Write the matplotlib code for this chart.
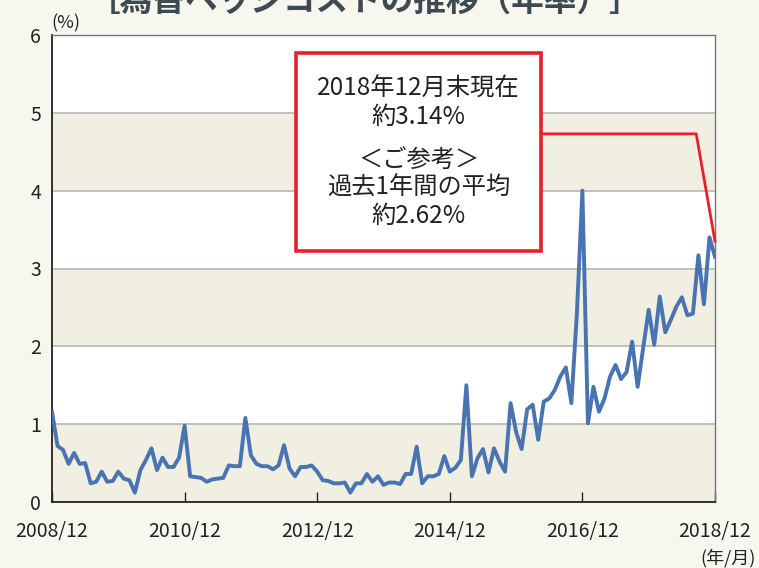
import matplotlib.pyplot as plt
from matplotlib.patches import Rectangle

plt.rcParams['font.family'] = ['Noto Sans CJK JP', 'DejaVu Sans']

# 月次データ 2008/12 - 2018/12 (%)
hedge_cost = [
    1.16, 0.72, 0.67, 0.49, 0.63, 0.49, 0.50, 0.24, 0.26, 0.39,
    0.26, 0.27, 0.39, 0.30, 0.28, 0.12, 0.41, 0.54, 0.69, 0.41,
    0.57, 0.45, 0.45, 0.57, 0.98, 0.33, 0.32, 0.31, 0.26, 0.29,
    0.30, 0.31, 0.47, 0.46, 0.46, 1.08, 0.60, 0.49, 0.46, 0.46,
    0.42, 0.47, 0.73, 0.43, 0.33, 0.45, 0.45, 0.47, 0.39, 0.28,
    0.27, 0.24, 0.24, 0.25, 0.12, 0.24, 0.24, 0.36, 0.26, 0.33,
    0.22, 0.25, 0.25, 0.23, 0.36, 0.36, 0.71, 0.24, 0.33, 0.33,
    0.36, 0.59, 0.39, 0.44, 0.54, 1.50, 0.33, 0.56, 0.68, 0.38,
    0.69, 0.52, 0.39, 1.27, 0.90, 0.68, 1.19, 1.25, 0.80, 1.29,
    1.33, 1.44, 1.61, 1.73, 1.27, 2.42, 4.00, 1.01, 1.48, 1.16,
    1.33, 1.61, 1.76, 1.58, 1.67, 2.06, 1.48, 1.98, 2.47, 2.02,
    2.64, 2.18, 2.34, 2.51, 2.63, 2.40, 2.42, 3.17, 2.54, 3.40,
    3.15,
]
tick_pos = [0, 24, 48, 72, 96, 120]
tick_labels = ['2008/12', '2010/12', '2012/12', '2014/12', '2016/12', '2018/12']
months = list(range(len(hedge_cost)))

fig = plt.figure(figsize=(7.59, 5.68), dpi=100, facecolor='#f8f7ef')
ax = fig.add_axes([52/759, 1-502/568, 663/759, 467/568])
ax.set_facecolor('white')

# 背景の帯と横線
for lo in [0, 2, 4]:
    ax.axhspan(lo, lo + 1, color='#f1eee2', zorder=0, lw=0)
for y in range(1, 6):
    ax.axhline(y, color='#bcbcbc', lw=1.3, zorder=1)

ax.plot(months, hedge_cost, color='#4874b2', lw=2.8, zorder=3,
        solid_joinstyle='round')

ax.set_xlim(0, 120)
ax.set_ylim(0, 6)
ax.set_yticks(range(7))
ax.set_xticks(tick_pos)
ax.set_xticklabels(tick_labels)
ax.tick_params(axis='y', length=0, pad=8, labelsize=14, colors='#222')
ax.tick_params(axis='x', direction='in', length=7, width=1, pad=14,
               labelsize=14, colors='#222')
for s in ['left', 'bottom']:
    ax.spines[s].set_color('#222')
    ax.spines[s].set_linewidth(1.3)
for s in ['top', 'right']:
    ax.spines[s].set_color('#777')
    ax.spines[s].set_linewidth(1)

# 注記ボックス
box = Rectangle((44.2, 3.225), 88.5 - 44.2, 5.77 - 3.225, fill=True,
                facecolor='white', edgecolor='#e5202a', lw=2.6, zorder=4)
ax.add_patch(box)
ax.plot([88.5, 116.6, 120], [4.73, 4.73, 3.35], color='#e5202a', lw=2,
        zorder=4, clip_on=False)
ax.text(66.35, 5.13, '2018年12月末現在\n約3.14%', ha='center', va='center',
        fontsize=17.5, linespacing=1.1, color='#222', zorder=5)
ax.text(66.35, 4.04, '＜ご参考＞\n過去1年間の平均\n約2.62%', ha='center',
        va='center', fontsize=17.5, linespacing=1.1, color='#222', zorder=5)

fig.text(51/759, 1-28/568, '(%)', ha='left', va='baseline', fontsize=13,
         color='#222')
fig.text(756/759, 1-563/568, '(年/月)', ha='right', va='baseline',
         fontsize=13, color='#222')
fig.text(365/759, 1-11/568, '［為替ヘッジコストの推移（年率）］', ha='center',
         va='baseline', fontsize=23.5, fontweight='bold', color='#3d4a52')

fig.savefig('out.png', dpi=100, facecolor=fig.get_facecolor())
